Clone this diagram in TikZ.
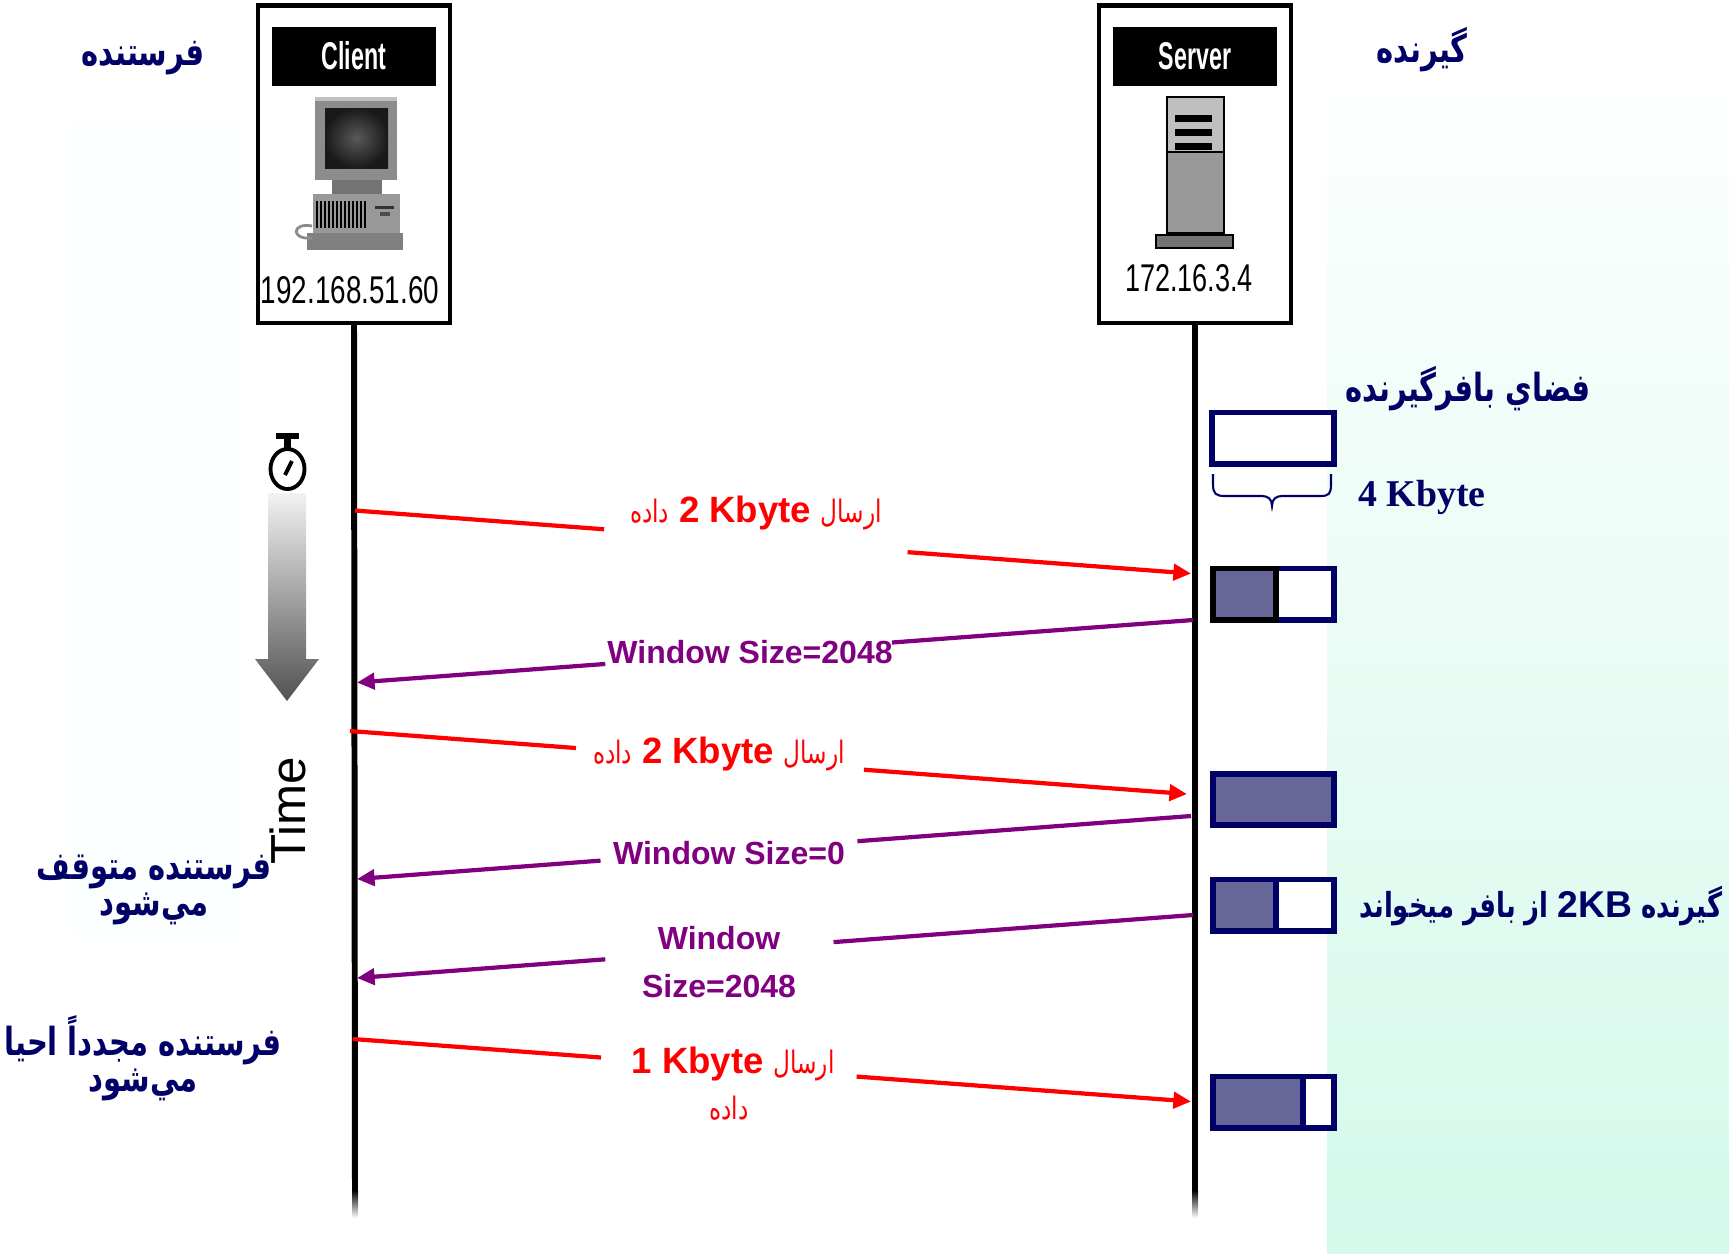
\documentclass[tikz,border=0pt]{standalone}
\usepackage{fontspec}
\usepackage{graphicx}
\setmainfont{Liberation Sans}
\newfontfamily\farsi[Script=Arabic, FakeStretch=0.75]{DejaVu Sans}
\newfontfamily\serifbold{Liberation Serif}
\TeXXeTstate=1
\usetikzlibrary{arrows.meta,calc}

\definecolor{navy}{RGB}{0,0,102}
\definecolor{bufferfill}{RGB}{102,102,153}
\definecolor{ackpurple}{RGB}{128,0,128}
\definecolor{mint}{RGB}{212,249,235}
\definecolor{leftpanel}{RGB}{252,255,255}

% condensed label text for the hosts
\newcommand{\narrowtext}[2][0.7]{\scalebox{#1}[1]{#2}}
% small persian words inside the data labels
\newcommand{\smallfa}[1]{{\farsi\fontsize{8.8}{10}\selectfont #1}}
\newcommand{\kbyte}[1]{\beginL{\bfseries\fontsize{10.4}{12}\selectfont #1}\endL{}}

\tikzstyle{host} = [draw, line width=1.2pt, minimum width=1.92cm, minimum height=3.17cm, inner sep=0pt]
\tikzstyle{hostlabel} = [fill=black, text=white, minimum width=1.64cm, minimum height=0.59cm,
    inner sep=0pt, font=\bfseries\fontsize{11}{13}\selectfont]
\tikzstyle{hostip} = [inner sep=0pt, font=\fontsize{11}{12}\selectfont]
\tikzstyle{lifeline} = [draw, line width=1.7pt]
\tikzstyle{buffer} = [draw=navy, line width=1.7pt, fill=white, minimum width=1.21cm,
    minimum height=0.51cm, inner sep=0pt, outer sep=0pt]
\tikzstyle{bufferlevel} = [path picture={\fill[bufferfill] (path picture bounding box.north west)
    rectangle ($(path picture bounding box.south west)!#1!(path picture bounding box.south east)$);}]
\tikzstyle{data} = [draw=red, line width=1.2pt]
\tikzstyle{ack} = [draw=ackpurple, line width=1.2pt]
\tikzstyle{msgarrow} = [-{Triangle[length=5pt,width=4.6pt]}]
\tikzstyle{datatext} = [text=red, inner sep=1pt, align=center]
\tikzstyle{acktext} = [text=ackpurple, inner sep=1pt, align=center,
    font=\bfseries\fontsize{9.1}{13.8}\selectfont]
\tikzstyle{note} = [text=navy, inner sep=0pt, align=center, font=\farsi\bfseries\fontsize{11}{9}\selectfont]

\begin{document}
\begin{tikzpicture}[x=0.01cm, y=-0.01cm]
    \useasboundingbox (0,0) rectangle (1729,1253);

    % background panels
    \fill[leftpanel] (72,122) rectangle (240,937);
    \shade[top color=mint!6, bottom color=mint] (1327,95) rectangle (1729,1253);

    % Place hosts
    \node[host] (client) at (354,164) {};
    \node[hostlabel] (clientname) at (354,56) {\narrowtext[0.6]{Client}};
    \node[hostip] (clientip) at (350,290) {\narrowtext[0.72]{192.168.51.60}};

    \node[host] (server) at (1195,164) {};
    \node[hostlabel] (servername) at (1195,56) {\narrowtext[0.6]{Server}};
    \node[hostip] (serverip) at (1189,278) {\narrowtext[0.7]{172.16.3.4}};

    % desktop computer
    \fill[black!45] (315,97) rectangle (397,180);
    \fill[black!25] (315,97) rectangle (397,101);
    \shade[inner color=black!65, outer color=black!90] (325,108) rectangle (388,168);
    \fill[black!55] (332,180) rectangle (382,194);
    \fill[black!40] (313,194) rectangle (400,233);
    \foreach \x in {316,320,...,364}
        \fill[black] (\x,201) rectangle (\x+2,228);
    \fill[black!80] (375,206) rectangle (394,209);
    \fill[black!70] (380,212) rectangle (390,216);
    \fill[black!50] (307,233) rectangle (403,250);
    \draw[black!45, line width=0.8pt] (312,226) .. controls (292,222) and (290,240) .. (312,238);

    % tower server
    \filldraw[fill=black!40, line width=0.8pt] (1167,97) rectangle (1224,233);
    \fill[black!25] (1168,98) rectangle (1223,152);
    \draw[line width=0.6pt] (1167,152) -- (1224,152);
    \foreach \y in {115,129,143}
        \fill[black] (1175,\y) rectangle (1212,\y+7);
    \filldraw[fill=black!55, line width=0.6pt] (1156,235) rectangle (1233,248);

    % lifelines
    \coordinate (clientend) at (355,1190);
    \coordinate (serverend) at (1195,1190);
    \path[lifeline] (client.south) -- (clientend);
    \path[lifeline] (server.south) -- (serverend);
    \shade[top color=black, bottom color=white] ($(clientend)+(-3,0)$) rectangle ($(clientend)+(3,28)$);
    \shade[top color=black, bottom color=white] ($(serverend)+(-3,0)$) rectangle ($(serverend)+(3,28)$);

    % time axis with stopwatch
    \draw[line width=1.1pt] (287.5,469) ellipse (17 and 20);
    \fill (276,433) rectangle (299,439);
    \fill (284,439) rectangle (291,449);
    \draw[line width=1.1pt] (285,475) -- (292,461);
    \shade[top color=black!5, bottom color=black!68] (268,493) -- (306,493) -- (306,659)
        -- (319,659) -- (287,701) -- (255,659) -- (268,659) -- cycle;
    \node[rotate=90, font=\fontsize{14}{16}\selectfont] (timelabel) at (288,811) {Time};

    % receiver buffers
    \node[buffer] (buf1) at (1273,438) {};
    \draw[navy, line width=0.6pt] (1213,474) -- (1213,484) .. controls (1213,494) and (1216,496) .. (1225,496)
        -- (1262,496) .. controls (1268,496) and (1272,499) .. (1272,506)
        .. controls (1272,499) and (1276,496) .. (1282,496) -- (1320,496)
        .. controls (1329,496) and (1331,494) .. (1331,484) -- (1331,474);
    \node[buffer, bufferlevel=0.52] (buf2) at (1273.5,594) {};
    \draw[line width=1.7pt] (buf2.north west) rectangle ($(buf2.south west)!0.52!(buf2.south east)$);
    \node[buffer, fill=bufferfill] (buf3) at (1273.5,799.5) {};
    \node[buffer, bufferlevel=0.52] (buf4) at (1273.5,905) {};
    \draw[navy, line width=1.7pt] ($(buf4.north west)!0.52!(buf4.north east)$) -- ($(buf4.south west)!0.52!(buf4.south east)$);
    \node[buffer, bufferlevel=0.74] (buf5) at (1273.5,1102) {};
    \draw[navy, line width=1.7pt] ($(buf5.north west)!0.74!(buf5.north east)$) -- ($(buf5.south west)!0.74!(buf5.south east)$);

    % Place notes
    \node[note] (sendertitle) at (143,58) {\beginR فرستنده\endR};
    \node[note] (receivertitle) at (1422,50) {\beginR گیرنده\endR};
    \node[note] (buffertitle) at (1468,389) {\beginR فضاي بافرگيرنده\endR};
    \node[text=navy, font=\serifbold\bfseries\fontsize{10.75}{12}\selectfont] (buffersize) at (1422,497) {4 Kbyte};
    \node[note, font=\farsi\bfseries\fontsize{9.8}{12}\selectfont] (readnote) at (1541,906)
        {\beginR گیرنده \beginL{\rmfamily\bfseries\fontsize{10.6}{12}\selectfont 2KB}\endL{} از بافر میخواند\endR};
    \node[note] (stopnote) at (154,890) {\beginR فرستنده متوقف\endR\\\beginR مي‌شود\endR};
    \node[note] (resumenote) at (143,1058) {\beginR فرستنده مجدداً احيا\endR\\\beginR مي‌شود\endR};

    % Draw messages
    \coordinate (m1s) at (355,510.5);
    \coordinate (m1e) at (1191,573.5);
    \path[data] (m1s) -- ($(m1s)!0.298!(m1e)$);
    \path[data, msgarrow] ($(m1s)!0.661!(m1e)$) -- (m1e);
    \node[datatext] (m1label) at (756,513) {\beginR\smallfa{ارسال} \kbyte{2 Kbyte} \smallfa{داده}\endR};

    \coordinate (m2s) at (1193,620);
    \coordinate (m2e) at (357,682.5);
    \path[ack] (m2s) -- ($(m2s)!0.36!(m2e)$);
    \path[ack, msgarrow] ($(m2s)!0.703!(m2e)$) -- (m2e);
    \node[acktext] (m2label) at (750,652) {Window Size=2048};

    \coordinate (m3s) at (350,731);
    \coordinate (m3e) at (1187,794);
    \path[data] (m3s) -- ($(m3s)!0.27!(m3e)$);
    \path[data, msgarrow] ($(m3s)!0.614!(m3e)$) -- (m3e);
    \node[datatext] (m3label) at (719,754) {\beginR\smallfa{ارسال} \kbyte{2 Kbyte} \smallfa{داده}\endR};

    \coordinate (m4s) at (1191,816);
    \coordinate (m4e) at (357,879);
    \path[ack] (m4s) -- ($(m4s)!0.4!(m4e)$);
    \path[ack, msgarrow] ($(m4s)!0.708!(m4e)$) -- (m4e);
    \node[acktext] (m4label) at (729,853.5) {Window Size=0};

    \coordinate (m5s) at (1193,915);
    \coordinate (m5e) at (357,978);
    \path[ack] (m5s) -- ($(m5s)!0.43!(m5e)$);
    \path[ack, msgarrow] ($(m5s)!0.703!(m5e)$) -- (m5e);
    \node[acktext] (m5label) at (719,962) {Window\\Size=2048};

    \coordinate (m6s) at (353,1039);
    \coordinate (m6e) at (1191,1101.5);
    \path[data] (m6s) -- ($(m6s)!0.296!(m6e)$);
    \path[data, msgarrow] ($(m6s)!0.601!(m6e)$) -- (m6e);
    \node[datatext] (m6label) at (733,1064) {\beginR\smallfa{ارسال} \kbyte{1 Kbyte}\endR};
    \node[datatext] (m6label2) at (729,1108) {\beginR\smallfa{داده}\endR};
\end{tikzpicture}
\end{document}
